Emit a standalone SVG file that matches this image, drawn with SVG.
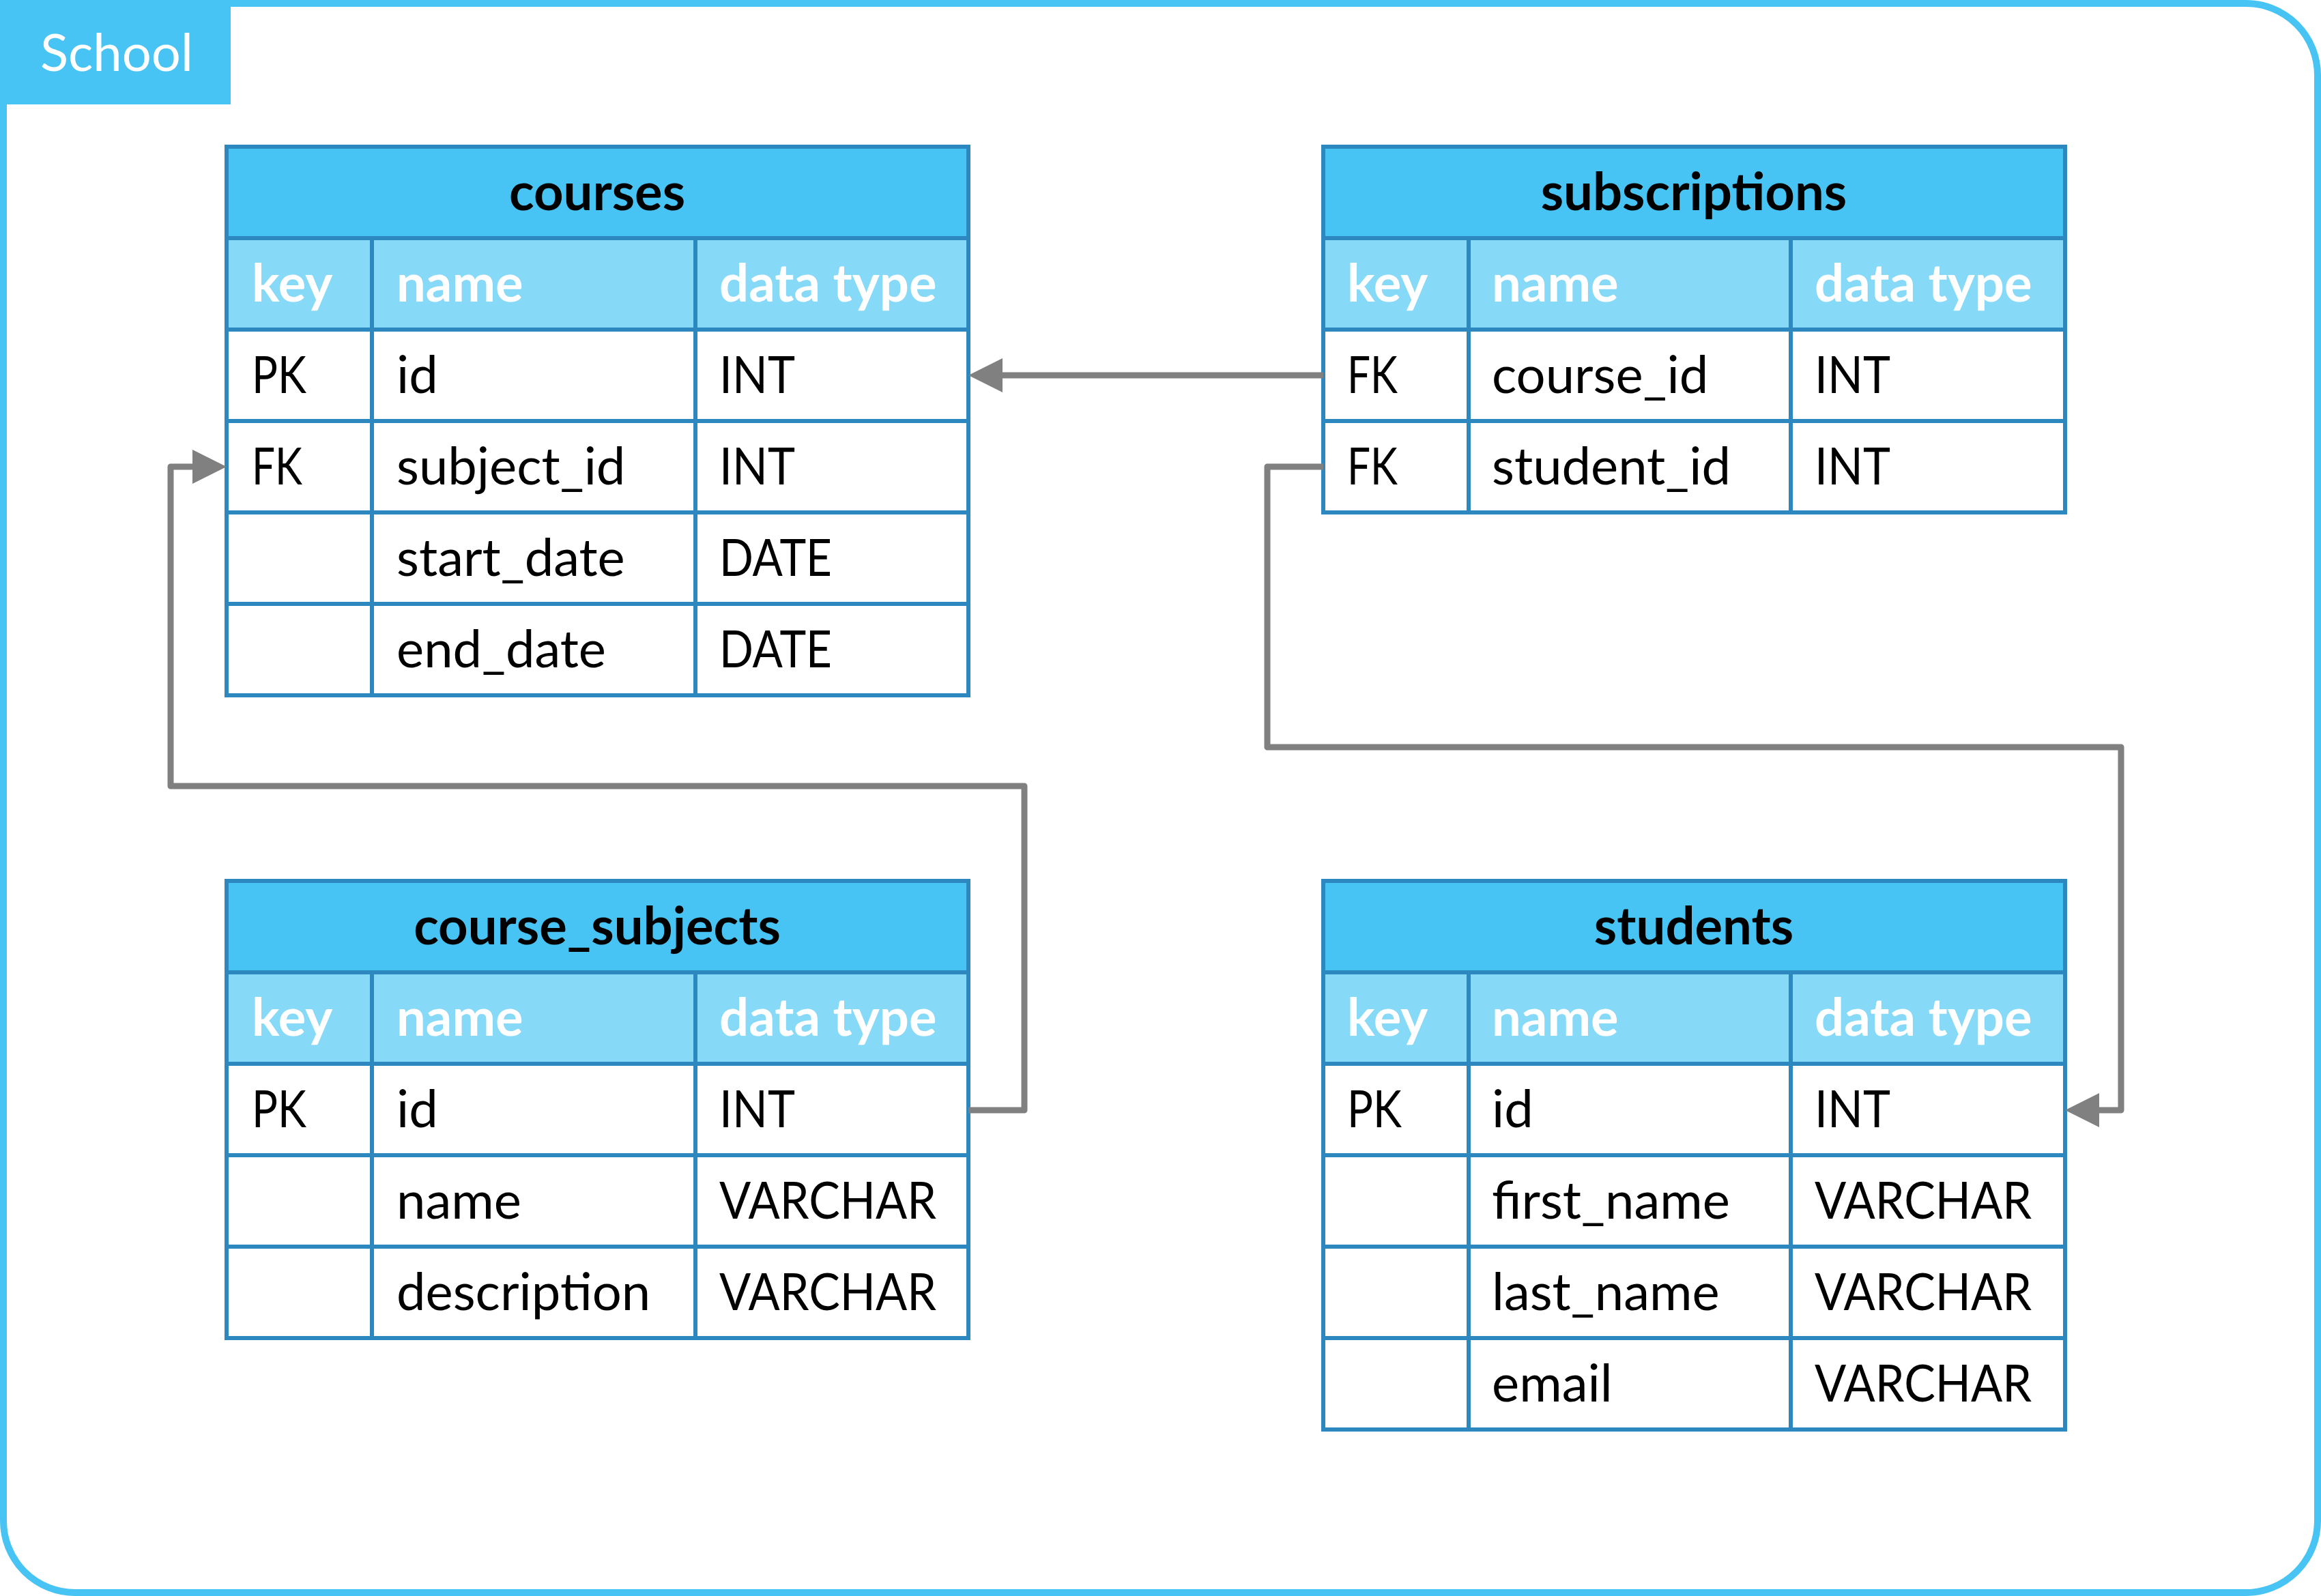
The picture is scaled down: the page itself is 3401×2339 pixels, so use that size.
<svg xmlns="http://www.w3.org/2000/svg" width="3401" height="2339" viewBox="0 0 3401 2339">
<style>
.hdr{fill:#47C4F3;}
.sub{fill:#86D9F7;}
.row{fill:#FFFFFF;}
.grid{stroke:#2E88C0;stroke-width:6;fill:none;}
.title{font-family:Lato,"Liberation Sans",sans-serif;font-weight:bold;font-size:76px;fill:#000;text-anchor:middle;}
.colh{font-family:Lato,"Liberation Sans",sans-serif;font-weight:bold;font-size:76px;fill:#FFFFFF;}
.cell{font-family:Lato,"Liberation Sans",sans-serif;font-size:76px;fill:#000;}
.conn{stroke:#808080;stroke-width:9;fill:none;stroke-linejoin:round;}
</style>
<defs>
<marker id="arrow" markerUnits="userSpaceOnUse" markerWidth="50" markerHeight="50" refX="0" refY="25" orient="auto">
<path d="M0,0 L50,25 L0,50 Z" fill="#808080"/>
</marker>
</defs>
<rect x="0" y="0" width="3401" height="2339" fill="#FFFFFF"/>
<g id="frame">
<rect x="5" y="5" width="3391" height="2329" rx="105" ry="105" fill="#FFFFFF" stroke="#47C4F3" stroke-width="10"/>
<rect x="0" y="0" width="338" height="153" fill="#47C4F3"/>
<text x="59" y="104" class="cell" style="fill:#FFFFFF">School</text>
</g>

<g id="courses">
<rect class="hdr" x="332" y="215" width="1087" height="134"/>
<rect class="sub" x="332" y="349" width="1087" height="134"/>
<rect class="row" x="332" y="483" width="1087" height="536"/>
<path class="grid" d="M332,215 H1419 V1019 H332 Z M332,349 H1419 M332,483 H1419 M332,617 H1419 M332,751 H1419 M332,885 H1419 M545,349 V1019 M1019,349 V1019"/>
<text class="title" x="875" y="308">courses</text>
<text class="colh" x="369" y="442">key</text>
<text class="colh" x="581" y="442">name</text>
<text class="colh" x="1054" y="442">data type</text>
<text class="cell" x="369" y="576" textLength="80" lengthAdjust="spacingAndGlyphs">PK</text>
<text class="cell" x="581" y="576">id</text>
<text class="cell" x="1054" y="576" textLength="111" lengthAdjust="spacingAndGlyphs">INT</text>
<text class="cell" x="369" y="710" textLength="74" lengthAdjust="spacingAndGlyphs">FK</text>
<text class="cell" x="581" y="710">subject_id</text>
<text class="cell" x="1054" y="710" textLength="111" lengthAdjust="spacingAndGlyphs">INT</text>
<text class="cell" x="581" y="844">start_date</text>
<text class="cell" x="1054" y="844" textLength="165" lengthAdjust="spacingAndGlyphs">DATE</text>
<text class="cell" x="581" y="978">end_date</text>
<text class="cell" x="1054" y="978" textLength="165" lengthAdjust="spacingAndGlyphs">DATE</text>
</g>

<g id="subscriptions">
<rect class="hdr" x="1939" y="215" width="1087" height="134"/>
<rect class="sub" x="1939" y="349" width="1087" height="134"/>
<rect class="row" x="1939" y="483" width="1087" height="268"/>
<path class="grid" d="M1939,215 H3026 V751 H1939 Z M1939,349 H3026 M1939,483 H3026 M1939,617 H3026 M2152,349 V751 M2624,349 V751"/>
<text class="title" x="2482" y="308">subscriptions</text>
<text class="colh" x="1974" y="442">key</text>
<text class="colh" x="2186" y="442">name</text>
<text class="colh" x="2659" y="442">data type</text>
<text class="cell" x="1974" y="576" textLength="74" lengthAdjust="spacingAndGlyphs">FK</text>
<text class="cell" x="2186" y="576">course_id</text>
<text class="cell" x="2659" y="576" textLength="111" lengthAdjust="spacingAndGlyphs">INT</text>
<text class="cell" x="1974" y="710" textLength="74" lengthAdjust="spacingAndGlyphs">FK</text>
<text class="cell" x="2186" y="710">student_id</text>
<text class="cell" x="2659" y="710" textLength="111" lengthAdjust="spacingAndGlyphs">INT</text>
</g>

<g id="course_subjects">
<rect class="hdr" x="332" y="1291" width="1087" height="134"/>
<rect class="sub" x="332" y="1425" width="1087" height="134"/>
<rect class="row" x="332" y="1559" width="1087" height="402"/>
<path class="grid" d="M332,1291 H1419 V1961 H332 Z M332,1425 H1419 M332,1559 H1419 M332,1693 H1419 M332,1827 H1419 M545,1425 V1961 M1019,1425 V1961"/>
<text class="title" x="875" y="1384">course_subjects</text>
<text class="colh" x="369" y="1518">key</text>
<text class="colh" x="581" y="1518">name</text>
<text class="colh" x="1054" y="1518">data type</text>
<text class="cell" x="369" y="1652" textLength="80" lengthAdjust="spacingAndGlyphs">PK</text>
<text class="cell" x="581" y="1652">id</text>
<text class="cell" x="1054" y="1652" textLength="111" lengthAdjust="spacingAndGlyphs">INT</text>
<text class="cell" x="581" y="1786">name</text>
<text class="cell" x="1054" y="1786" textLength="318" lengthAdjust="spacingAndGlyphs">VARCHAR</text>
<text class="cell" x="581" y="1920">description</text>
<text class="cell" x="1054" y="1920" textLength="318" lengthAdjust="spacingAndGlyphs">VARCHAR</text>
</g>

<g id="students">
<rect class="hdr" x="1939" y="1291" width="1087" height="134"/>
<rect class="sub" x="1939" y="1425" width="1087" height="134"/>
<rect class="row" x="1939" y="1559" width="1087" height="536"/>
<path class="grid" d="M1939,1291 H3026 V2095 H1939 Z M1939,1425 H3026 M1939,1559 H3026 M1939,1693 H3026 M1939,1827 H3026 M1939,1961 H3026 M2152,1425 V2095 M2624,1425 V2095"/>
<text class="title" x="2482" y="1384">students</text>
<text class="colh" x="1974" y="1518">key</text>
<text class="colh" x="2186" y="1518">name</text>
<text class="colh" x="2659" y="1518">data type</text>
<text class="cell" x="1974" y="1652" textLength="80" lengthAdjust="spacingAndGlyphs">PK</text>
<text class="cell" x="2186" y="1652">id</text>
<text class="cell" x="2659" y="1652" textLength="111" lengthAdjust="spacingAndGlyphs">INT</text>
<text class="cell" x="2186" y="1786">first_name</text>
<text class="cell" x="2659" y="1786" textLength="318" lengthAdjust="spacingAndGlyphs">VARCHAR</text>
<text class="cell" x="2186" y="1920">last_name</text>
<text class="cell" x="2659" y="1920" textLength="318" lengthAdjust="spacingAndGlyphs">VARCHAR</text>
<text class="cell" x="2186" y="2054">email</text>
<text class="cell" x="2659" y="2054" textLength="318" lengthAdjust="spacingAndGlyphs">VARCHAR</text>
</g>

<g id="connectors">
<path class="conn" d="M1939,550 H1469" marker-end="url(#arrow)"/>
<path class="conn" d="M1419,1627 H1501 V1152 H250 V684 H282" marker-end="url(#arrow)"/>
<path class="conn" d="M1939,684 H1857 V1095 H3108 V1627 H3076" marker-end="url(#arrow)"/>
</g>
</svg>
